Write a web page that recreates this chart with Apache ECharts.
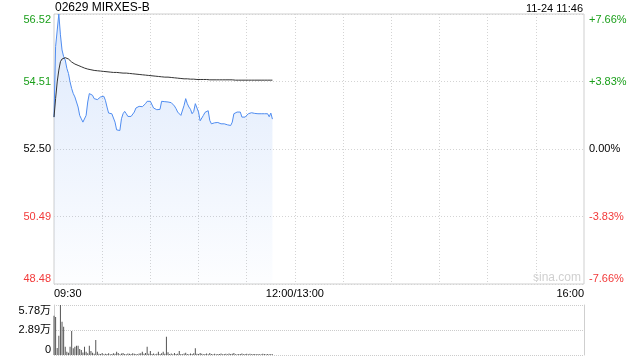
<!DOCTYPE html>
<html>
<head>
<meta charset="utf-8">
<script src="https://cdn.jsdelivr.net/npm/echarts@6/dist/echarts.min.js"></script>
<style>html,body{margin:0;padding:0;background:#fff;}#c{width:640px;height:360px;}</style>
</head>
<body>
<div id="c"></div>
<script>
var title = '02629 MIRXES-B';
var stamp = '11-24 11:46';
var prevClose = 52.50;
var xTickLabels = {0: '09:30', 150: '12:00/13:00', 330: '16:00'};
var priceTicks = [48.48, 50.49, 52.50, 54.51, 56.52];
var pctTicks = [-7.66, -3.83, 0, 3.83, 7.66];
var volTicks = [0, 28900, 57800];

var price = [53.45,55.55,55.60,56.52,55.90,55.45,55.25,55.15,54.90,54.75,
54.50,54.30,54.15,54.05,53.90,53.75,53.50,53.40,53.30,53.35,
53.50,53.90,54.15,54.20,54.10,54.00,54.05,53.97,53.98,54.05,
54.09,54.07,53.95,53.75,53.57,53.57,53.55,53.50,53.30,53.07,
53.06,53.05,53.40,53.55,53.62,53.55,53.47,53.47,53.47,53.47,
53.60,53.72,53.74,53.77,53.77,53.76,53.75,53.85,53.92,53.92,
53.92,53.90,53.72,53.68,53.67,53.66,53.68,53.92,53.91,53.91,
53.90,53.90,53.90,53.88,53.85,53.78,53.70,53.60,53.55,53.50,
53.55,53.80,54.00,53.85,53.75,53.68,53.55,53.62,53.85,53.85,
53.60,53.34,53.34,53.50,53.59,53.60,53.64,53.35,53.25,53.25,
53.28,53.29,53.29,53.27,53.25,53.25,53.25,53.24,53.22,53.19,
53.20,53.30,53.55,53.59,53.60,53.60,53.60,53.45,53.45,53.45,
53.46,53.55,53.58,53.58,53.59,53.56,53.55,53.55,53.55,53.55,
53.55,53.55,53.55,53.55,53.46,53.57,53.39];

var avgPrice = [53.45,54.00,54.50,54.85,55.10,55.18,55.21,55.22,55.21,55.18,
55.13,55.09,55.06,55.03,55.01,54.99,54.97,54.95,54.93,54.91,
54.90,54.88,54.87,54.86,54.85,54.84,54.84,54.83,54.83,54.82,
54.82,54.81,54.81,54.80,54.80,54.79,54.79,54.78,54.78,54.78,
54.77,54.77,54.77,54.76,54.76,54.76,54.75,54.75,54.74,54.74,
54.73,54.73,54.72,54.72,54.71,54.71,54.70,54.70,54.69,54.69,
54.68,54.68,54.67,54.67,54.67,54.66,54.66,54.65,54.65,54.64,
54.64,54.64,54.63,54.63,54.62,54.62,54.61,54.61,54.60,54.60,
54.59,54.59,54.59,54.59,54.58,54.58,54.58,54.58,54.58,54.57,
54.57,54.57,54.57,54.57,54.57,54.57,54.56,54.56,54.56,54.56,
54.56,54.56,54.56,54.56,54.56,54.56,54.56,54.56,54.56,54.56,
54.56,54.56,54.55,54.55,54.55,54.55,54.55,54.55,54.55,54.55,
54.55,54.55,54.55,54.55,54.55,54.55,54.55,54.55,54.55,54.55,
54.55,54.55,54.55,54.55,54.55,54.55,54.55];

var volume = [45500,44000,8000,22300,57800,38500,32700,9600,3900,2500,
9600,27700,7700,9600,10800,10800,6900,5800,3000,9600,
3900,2000,10800,4600,2500,1500,17300,3900,1500,1200,
2300,900,1500,1100,2000,800,1200,1900,1500,3850,
2300,1000,1600,2300,1200,900,1800,1400,1100,2000,
1500,1300,900,1700,2100,3850,1500,2300,9600,1400,
4600,1200,1800,1000,1500,3850,1200,1900,3850,1500,
21200,3100,1200,1700,900,2300,1100,1500,4600,1200,
900,1800,2500,1300,1000,1600,1200,2000,7700,1400,
1100,2200,1500,1000,1300,1800,900,2400,1200,1000,
1500,800,1300,1100,1700,900,1200,1500,1000,1800,
1200,1400,2200,1000,900,1300,1100,1600,800,1200,
1400,1000,1500,900,1100,1300,800,1200,1000,900,
1400,1100,800,1200,1000,1300,900];

// time categories: 09:30..12:00 then 13:01..16:00
function pad(n){return (n<10?'0':'')+n;}
var times = [];
for (var m = 9*60+30; m <= 12*60; m++) times.push(pad(Math.floor(m/60))+':'+pad(m%60));
for (var m2 = 13*60+1; m2 <= 16*60; m2++) times.push(pad(Math.floor(m2/60))+':'+pad(m2%60));

var FONT = 'Liberation Sans, Arial, Noto Sans CJK SC, sans-serif';
var GREEN = '#1a9f1a', RED = '#f23a3a';

function priceColor(v){
  if (v > prevClose + 0.001) return GREEN;
  if (v < prevClose - 0.001) return RED;
  return '#000';
}

var chart = echarts.init(document.getElementById('c'), null, {renderer: 'canvas'});
chart.setOption({
  animation: false,
  backgroundColor: '#fff',
  textStyle: {fontFamily: FONT},
  graphic: [
    {type: 'text', left: 55, top: 2, style: {text: title, font: '12px ' + FONT, fill: '#000'}},
    {type: 'text', right: 57, top: 3, style: {text: stamp, font: '11px ' + FONT, fill: '#000'}},
    {type: 'text', left: 533, top: 272, style: {text: 'sina.com', font: '12px ' + FONT, fill: '#d0d0d0'}}
  ],
  grid: [
    {left: 54, top: 14, width: 530, height: 270, show: true, borderColor: '#cfcfcf', borderWidth: 1, backgroundColor: 'transparent'},
    {left: 54, top: 305, width: 530, height: 50}
  ],
  xAxis: [
    {
      type: 'category', gridIndex: 0, data: times, boundaryGap: false,
      axisLine: {show: false}, axisTick: {show: false},
      axisLabel: {
        interval: function(i){ return xTickLabels.hasOwnProperty(i); },
        formatter: function(v, i){ return xTickLabels[i] || ''; },
        color: '#000', fontSize: 11, fontFamily: FONT, margin: 4,
        alignMinLabel: 'left', alignMaxLabel: 'right'
      },
      splitLine: {show: true, interval: function(i){ return i % 30 === 0 && i > 0 && i < 330; },
        lineStyle: {color: '#d4d4d4', type: [1, 2], width: 1}}
    },
    {
      type: 'category', gridIndex: 1, data: times, boundaryGap: false,
      axisLine: {show: false}, axisTick: {show: false}, axisLabel: {show: false}, splitLine: {show: false}
    }
  ],
  yAxis: [
    {
      type: 'value', gridIndex: 0, min: priceTicks[0], max: priceTicks[4], interval: 2.01,
      axisLine: {show: false}, axisTick: {show: false},
      axisLabel: {
        formatter: function(v){ return v.toFixed(2); },
        color: function(v){ return priceColor(Number(v)); },
        fontSize: 11, fontFamily: FONT, margin: 3,
        verticalAlignMaxLabel: 'top', verticalAlignMinLabel: 'bottom'
      },
      splitLine: {show: true, lineStyle: {color: '#d4d4d4', type: [1, 2], width: 1}}
    },
    {
      type: 'value', gridIndex: 0, position: 'right', min: pctTicks[0], max: pctTicks[4], interval: 3.83,
      axisLine: {show: false}, axisTick: {show: false},
      axisLabel: {
        formatter: function(v){ var s = v > 0.001 ? '+' : ''; return s + v.toFixed(2) + '%'; },
        color: function(v){ v = parseFloat(v); return v > 0.001 ? GREEN : (v < -0.001 ? RED : '#000'); },
        fontSize: 11, fontFamily: FONT, margin: 5,
        verticalAlignMaxLabel: 'top', verticalAlignMinLabel: 'bottom'
      },
      splitLine: {show: false}
    },
    {
      type: 'value', gridIndex: 1, min: volTicks[0], max: volTicks[2], interval: volTicks[1],
      axisLine: {show: true, lineStyle: {color: '#cfcfcf'}}, axisTick: {show: false},
      axisLabel: {
        formatter: function(v){ return v === 0 ? '0' : (v / 10000).toFixed(2) + '万'; },
        color: '#000', fontSize: 11, fontFamily: FONT, margin: 3,
        verticalAlignMaxLabel: 'top', verticalAlignMinLabel: 'bottom'
      },
      splitLine: {show: true, lineStyle: {color: '#cccccc', type: [1, 1], width: 1}}
    },
    {
      type: 'value', gridIndex: 1, position: 'right', min: volTicks[0], max: volTicks[2], interval: volTicks[1],
      axisLine: {show: true, lineStyle: {color: '#cfcfcf'}}, axisTick: {show: false},
      axisLabel: {show: false}, splitLine: {show: false}
    }
  ],
  series: [
    {
      type: 'line', xAxisIndex: 0, yAxisIndex: 0, data: price, symbol: 'none',
      lineStyle: {color: '#4f8cf0', width: 1},
      areaStyle: {color: new echarts.graphic.LinearGradient(0, 0, 0, 1, [
        {offset: 0, color: 'rgba(79,140,240,0.27)'},
        {offset: 1, color: 'rgba(79,140,240,0.02)'}
      ])},
      z: 3
    },
    {
      type: 'line', xAxisIndex: 0, yAxisIndex: 0, data: avgPrice, symbol: 'none',
      lineStyle: {color: '#333', width: 1}, z: 4
    },
    {
      type: 'bar', xAxisIndex: 1, yAxisIndex: 2, data: volume, barWidth: 1,
      itemStyle: {color: '#555'}
    }
  ]
});
</script>
</body>
</html>
